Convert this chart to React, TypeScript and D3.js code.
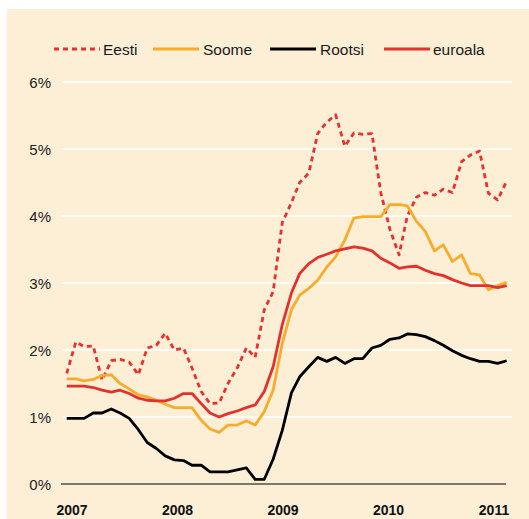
import React from "react";
import * as d3 from "d3";

// monthly values, Jan 2007 .. Feb 2011 (%)
const months = d3.timeMonth.range(new Date(2007, 0, 1), new Date(2011, 2, 1));

const eesti = [
    1.65, 2.12, 2.05, 2.06, 1.55, 1.84, 1.86, 1.82, 1.63, 2.03, 2.07, 2.25,
    2.0, 2.03, 1.73, 1.38, 1.2, 1.21, 1.5, 1.73, 2.03, 1.89, 2.6, 2.87,
    3.9, 4.2, 4.5, 4.64, 5.23, 5.4, 5.51, 5.04, 5.24, 5.22, 5.23, 4.35,
    3.8, 3.42, 4.0, 4.28, 4.35, 4.31, 4.4, 4.35, 4.81, 4.91, 4.97, 4.34,
    4.24, 4.52,
];
const soome = [
    1.57, 1.57, 1.54, 1.56, 1.62, 1.63, 1.5, 1.42, 1.33, 1.3, 1.25, 1.19,
    1.14, 1.14, 1.14, 0.95, 0.82, 0.77, 0.88, 0.88, 0.94, 0.88, 1.08, 1.4,
    2.1, 2.6, 2.82, 2.92, 3.04, 3.24, 3.39, 3.64, 3.97, 3.99, 3.99, 3.99,
    4.17, 4.17, 4.15, 3.92, 3.77, 3.48, 3.57, 3.32, 3.42, 3.14, 3.12, 2.9,
    2.96, 3.01,
];
const rootsi = [
    0.98, 0.98, 0.98, 1.06, 1.06, 1.12, 1.06, 0.98, 0.81, 0.62, 0.53, 0.42,
    0.36, 0.35, 0.28, 0.28, 0.18, 0.18, 0.18, 0.21, 0.24, 0.07, 0.07, 0.37,
    0.8, 1.36, 1.6, 1.75, 1.89, 1.83, 1.89, 1.8, 1.87, 1.87, 2.03, 2.07,
    2.16, 2.18, 2.24, 2.23, 2.2, 2.14, 2.07, 1.99, 1.92, 1.87, 1.83, 1.83,
    1.8, 1.84,
];
const euroala = [
    1.46, 1.46, 1.46, 1.44, 1.4, 1.37, 1.4, 1.35, 1.28, 1.25, 1.24, 1.24,
    1.28, 1.35, 1.35, 1.2, 1.06, 1.0, 1.05, 1.09, 1.14, 1.18, 1.38, 1.75,
    2.38, 2.85, 3.14, 3.29, 3.38, 3.43, 3.48, 3.51, 3.54, 3.52, 3.48, 3.37,
    3.3, 3.22, 3.24, 3.25, 3.19, 3.14, 3.11, 3.05, 3.0, 2.96, 2.96, 2.96,
    2.93, 2.96,
];

const yearLabels = ["2007", "2008", "2009", "2010", "2011"];
const yTicks = [0, 1, 2, 3, 4, 5, 6];

const series = [
    { name: "Eesti", values: eesti, color: "#e8322f", dash: "5,4" },
    { name: "Soome", values: soome, color: "#f8ac2c", dash: null },
    { name: "Rootsi", values: rootsi, color: "#000000", dash: null },
    { name: "euroala", values: euroala, color: "#e4312b", dash: null },
];

const W = 529;
const H = 519;
const FONT = "'Liberation Sans', Arial, sans-serif";

export default function App() {
    const x = d3.scaleTime().domain([months[0], months[months.length - 1]]).range([66.7, 506.7]);
    const y = d3.scaleLinear().domain([0, 6]).range([484, 82]);
    const yearX = d3.scalePoint().domain(yearLabels).range([72, 494]);

    const line = d3
        .line<number>()
        .x((_, i) => x(months[i]))
        .y((d) => y(d));

    // legend layout (line start, text start)
    const legendPos = [
        { lx: 54, tx: 103 },
        { lx: 153, tx: 203 },
        { lx: 270, tx: 320 },
        { lx: 384, tx: 433 },
    ];

    return (
        <svg
            width={W}
            height={H}
            style={{ position: "absolute", left: 0, top: 0, display: "block" }}
        >
            <rect x={0} y={0} width={W} height={H} fill="#ffffff" />
            <rect x={7} y={9} width={W - 7} height={H - 9} fill="#fdeed6" />

            {/* legend */}
            {series.map((s, i) => (
                <g key={s.name}>
                    <line
                        x1={legendPos[i].lx}
                        x2={legendPos[i].lx + 46}
                        y1={49}
                        y2={49}
                        stroke={s.color}
                        strokeWidth={2.8}
                        strokeDasharray={s.dash ?? undefined}
                    />
                    <text
                        x={legendPos[i].tx}
                        y={54.5}
                        fontFamily={FONT}
                        fontSize={15.5}
                        fill="#1a1a1a"
                    >
                        {s.name}
                    </text>
                </g>
            ))}

            {/* grid */}
            {yTicks.filter((t) => t > 0).map((t) => (
                <line key={t} x1={62} x2={512} y1={y(t)} y2={y(t)} stroke="#ffffff" strokeWidth={1.6} />
            ))}
            {yTicks.map((t) => (
                <text
                    key={"l" + t}
                    x={51}
                    y={y(t) + 5.5}
                    textAnchor="end"
                    fontFamily={FONT}
                    fontSize={15}
                    fill="#222"
                >
                    {t}%
                </text>
            ))}
            <line x1={61} x2={506} y1={y(0)} y2={y(0)} stroke="#000" strokeWidth={1.2} />

            {/* x labels */}
            {yearLabels.map((yr) => (
                <text
                    key={yr}
                    x={yearX(yr)}
                    y={515}
                    textAnchor="middle"
                    fontFamily={FONT}
                    fontWeight="bold"
                    fontSize={14}
                    fill="#111"
                >
                    {yr}
                </text>
            ))}

            {/* lines */}
            {series.map((s) => (
                <path
                    key={"p" + s.name}
                    d={line(s.values) ?? ""}
                    fill="none"
                    stroke={s.color}
                    strokeWidth={2.8}
                    strokeLinejoin="round"
                    strokeDasharray={s.dash ?? undefined}
                />
            ))}
        </svg>
    );
}
